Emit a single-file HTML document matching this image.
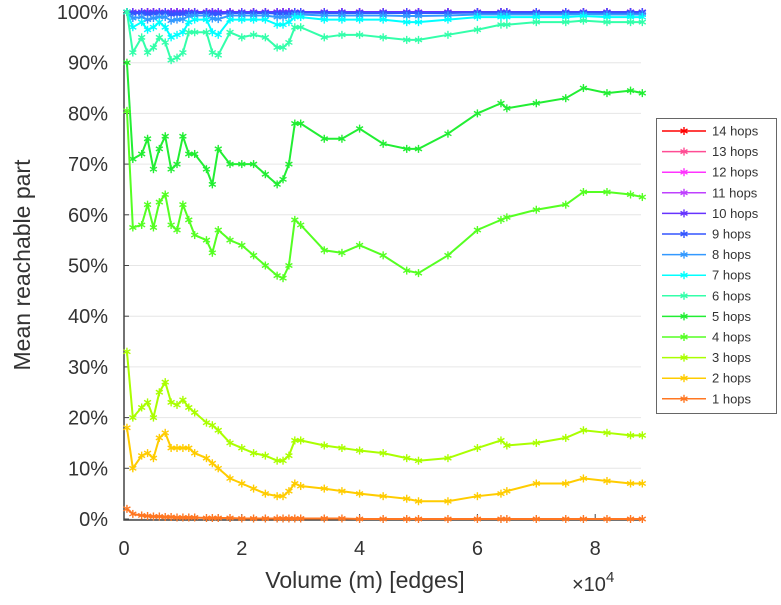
<!DOCTYPE html>
<html><head><meta charset="utf-8"><style>
body{margin:0;background:#fff;font-family:"Liberation Sans",sans-serif}
svg text{font-family:"Liberation Sans",sans-serif;fill:#333}
</style></head><body>
<svg id="chart" width="781" height="600" xmlns="http://www.w3.org/2000/svg"></svg>
<script>
const xs=[0.05,0.15,0.3,0.4,0.5,0.6,0.7,0.8,0.9,1.0,1.1,1.2,1.4,1.5,1.6,1.8,2.0,2.2,2.4,2.6,2.7,2.8,2.9,3.0,3.4,3.7,4.0,4.4,4.8,5.0,5.5,6.0,6.4,6.5,7.0,7.5,7.8,8.2,8.6,8.8];
const hop1=[2,1,0.7,0.6,0.5,0.5,0.4,0.4,0.3,0.3,0.3,0.3,0.2,0.2,0.2,0.2,0.1,0.1,0.1,0.1,0.1,0.1,0.1,0.1,0.1,0.1,0,0,0,0,0,0,0,0,0,0,0,0,0,0];
const hop2=[18,10,12.5,13,12,16,17,14,14,14,14,13,12,11,10,8,7,6,5,4.5,4.5,5.5,7,6.5,6,5.5,5,4.5,4,3.5,3.5,4.5,5,5.5,7,7,8,7.5,7,7];
const hop3=[33,20,22,23,20,25,27,23,22.5,23.5,22,21,19,18.5,17.5,15,14,13,12.5,11.5,11.5,12.5,15.5,15.5,14.5,14,13.5,13,12,11.5,12,14,15.5,14.5,15,16,17.5,17,16.5,16.5];
const hop4=[80.5,57.5,58,62,57.5,62.5,64,58,57,62,59,56,55,52.5,57,55,54,52,50,48,47.5,50,59,58,53,52.5,54,52,49,48.5,52,57,59,59.5,61,62,64.5,64.5,64,63.5];
const hop5=[90,71,72,75,69,73,75.5,69,70,75.5,72,72,69,66,73,70,70,70,68,66,67,70,78,78,75,75,77,74,73,73,76,80,82,81,82,83,85,84,84.5,84];
const hop6=[100,92,95,92,93,95,94,90.5,91,92,96,96,96,92,91.5,96,95,95.5,95,93,93,94,97,97,95,95.5,95.5,95,94.5,94.5,95.5,96.5,97.5,97.5,98,98,98.3,98,98,98];
const hop7=[100,97,98,96.5,97,98,97,95,95.5,96,98,98.5,98.5,96,95.5,98.5,98.5,98.5,98.5,97.5,97.5,98,99,99,98.5,98.5,98.5,98.5,98,98,98.5,99,99,99,99,99,99.2,99,99,99];
const hop8=[100,98.8,99,98.5,98.8,99,99,98.3,98.5,98.6,99.2,99.3,99.3,98.7,98.6,99.3,99.3,99.3,99.3,99,99,99.1,99.5,99.5,99.3,99.3,99.3,99.3,99.2,99.2,99.3,99.5,99.5,99.5,99.5,99.5,99.6,99.5,99.5,99.5];
const hop9=[100,99.7,99.8,99.6,99.7,99.8,99.8,99.5,99.6,99.6,99.8,99.8,99.8,99.6,99.6,99.8,99.8,99.8,99.8,99.7,99.7,99.7,99.9,99.9,99.8,99.8,99.8,99.8,99.8,99.8,99.8,99.9,99.9,99.9,99.9,99.9,99.9,99.9,99.9,99.9];
const hopTop=[100,100,100,100,100,100,100,100,100,100,100,100,100,100,100,100,100,100,100,100,100,100,100,100,100,100,100,100,100,100,100,100,100,100,100,100,100,100,100,100];
const seriesNames=["1 hops","2 hops","3 hops","4 hops","5 hops","6 hops","7 hops","8 hops","9 hops","10 hops","11 hops","12 hops","13 hops","14 hops"];
const seriesVals=[hop1,hop2,hop3,hop4,hop5,hop6,hop7,hop8,hop9,hopTop,hopTop,hopTop,hopTop,hopTop];
const colors=["#ff7722","#ffcc00","#aaff00","#55ff22","#22ee33","#33ffaa","#00ffff","#3399ff","#3355ff","#6633ff","#bf40ff","#ff33ff","#ff4d94","#ff0000"];
const yTicks=[0,10,20,30,40,50,60,70,80,90,100];
const xTicks=[0,2,4,6,8];

const NS="http://www.w3.org/2000/svg";
const svg=document.getElementById('chart');
const X=v=>124+v*58.9;
const Y=v=>519-v*5.07;
function el(t,a,p){const e=document.createElementNS(NS,t);for(const k in a)e.setAttribute(k,a[k]);(p||svg).appendChild(e);return e;}

yTicks.forEach(t=>{
  const g=el('line',{x1:124,x2:641,y1:Y(t),y2:Y(t),stroke:'#e6e6e6','stroke-width':1});
  
  
  const tk=el('line',{x1:124,x2:129,y1:Y(t),y2:Y(t),stroke:'#444'});
  
  
  const l=el('text',{x:108,y:Y(t)+7,'text-anchor':'end','font-size':20});
  l.textContent=t+'%';
  
  
});
xTicks.forEach(t=>{
  const tk=el('line',{x1:X(t),x2:X(t),y1:519,y2:514,stroke:'#444'});
  
  
  const l=el('text',{x:X(t),y:555,'text-anchor':'middle','font-size':20});
  l.textContent=t;
  
  
});
const ax=el('path',{d:'M124,12 V520 H641',fill:'none',stroke:'#444','stroke-width':1.5});



function star(x,y,c,g){
  const r=4;
  for(let i=0;i<3;i++){const a=i*Math.PI/3+Math.PI/2;
    el('line',{x1:x-r*Math.cos(a),y1:y-r*Math.sin(a),x2:x+r*Math.cos(a),y2:y+r*Math.sin(a),stroke:c,'stroke-width':1.4},g);}
}
for(let i=seriesVals.length-1;i>=0;i--){
  const vals=seriesVals[i];
  const g=el('g',{});
  
  
  el('polyline',{points:vals.map((v,j)=>X(xs[j])+','+Y(v)).join(' '),fill:'none',stroke:colors[i],'stroke-width':2},g);
  vals.forEach((v,j)=>star(X(xs[j]),Y(v),colors[i],g));
}

const lg=el('g',{});


el('rect',{x:656.5,y:118.5,width:120,height:295,fill:'#fff',stroke:'#666'},lg);
for(let k=0;k<14;k++){
  const i=13-k, y=131+k*20.6;
  const e=el('g',{},lg);
  
  
  el('line',{x1:662,x2:706,y1:y,y2:y,stroke:colors[i],'stroke-width':1.5},e);
  star(684,y,colors[i],e);
  const t=el('text',{x:712,y:y+4.5,'font-size':13},e);
  t.textContent=seriesNames[i];
}
const yt=el('text',{x:0,y:0,'font-size':23,'text-anchor':'middle',transform:'translate(30,265) rotate(-90)'});
yt.textContent='Mean reachable part';


const xt=el('text',{x:365,y:588,'font-size':23,'text-anchor':'middle'});
xt.textContent='Volume (m) [edges]';


const xm=el('text',{x:572,y:591,'font-size':20});
xm.innerHTML='×10<tspan dy="-9" font-size="15">4</tspan>';


</script>
</body></html>
